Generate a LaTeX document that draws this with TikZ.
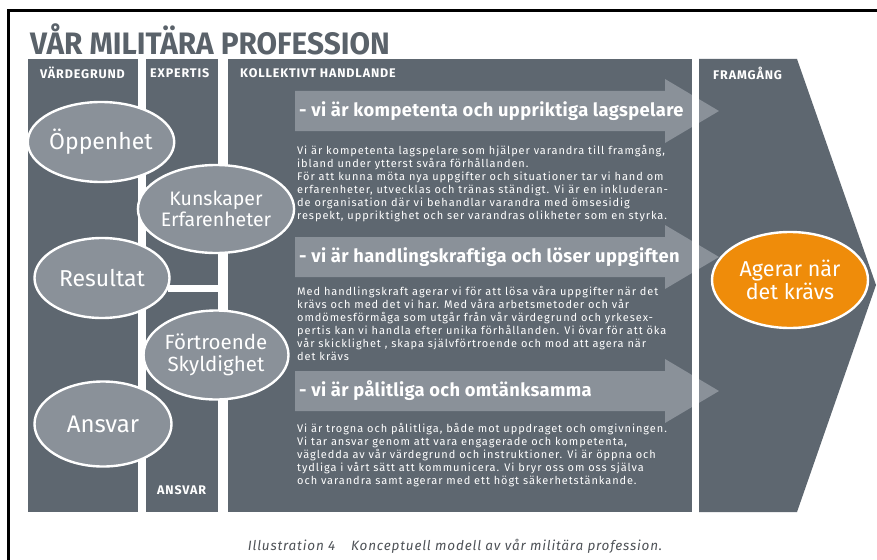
\documentclass[tikz,border=0pt]{standalone}
\usepackage{fontspec}
\setmainfont{Fira Sans}
\usepackage{graphicx}
\usetikzlibrary{shapes.geometric}

\definecolor{slate}{HTML}{5E6770}
\definecolor{stone}{HTML}{8A9199}
\definecolor{amber}{HTML}{EF8C0A}
\definecolor{ink}{HTML}{5A626A}
\definecolor{capgray}{HTML}{4E5257}

\begin{document}
\begin{tikzpicture}[x=1pt, y=-1pt,
        col/.style={fill=slate, inner sep=0pt, anchor=north west},
        colhead/.style={anchor=west, text=white, inner sep=0pt, font=\bfseries\fontsize{12.5}{14}\selectfont\addfontfeatures{LetterSpace=7}},
        pill/.style={ellipse, draw=white, line width=2.4pt, fill=stone, text=white, align=center, inner sep=0pt},
        lead/.style={anchor=west, text=white, inner sep=0pt, font=\bfseries\fontsize{18.3}{20}\selectfont\addfontfeatures{LetterSpace=2}},
        body/.style={anchor=north west, text=white, align=left, inner sep=0pt, font=\fontsize{11}{13}\selectfont\addfontfeatures{LetterSpace=8.5}},
        bridge/.style={draw=white, line width=7pt}
    ]

    \useasboundingbox (0,0) rectangle (877,559);
    \clip (0,0) rectangle (877,559);
    \fill[white] (0,0) rectangle (877,559);
    \draw[line width=3pt] (8,11) rectangle (900,600);

    \node[anchor=base west, text=ink, inner sep=0pt, font=\bfseries\fontsize{31}{33}\selectfont] (title) at (30,55)
        {\scalebox{0.96}[1]{VÅR MILITÄRA PROFESSION}};

    % columns
    \node[col, minimum width=110pt, minimum height=453pt] (vard) at (28,59) {};
    \node[col, minimum width=72pt, minimum height=453pt] (expert) at (146,59) {};
    \node[col, minimum width=464pt, minimum height=453pt] (koll) at (228,59) {};
    \fill[slate] (699,59) -- (797,59) -- (876,285) -- (797,512) -- (699,512) -- cycle;

    \node[colhead] (hvard) at (40,73) {VÄRDEGRUND};
    \node[colhead] (hexpert) at (150,73) {EXPERTIS};
    \node[colhead] (hkoll) at (240,73) {KOLLEKTIVT HANDLANDE};
    \node[colhead] (hfram) at (713,73) {FRAMGÅNG};
    \node[colhead] (hansvar) at (157,490) {ANSVAR};

    % arrows
    \foreach \y in {111,257,391}
        \fill[stone] (295,\y-20) -- (665,\y-20) -- (665,\y-32) -- (719,\y)
            -- (665,\y+32) -- (665,\y+20) -- (295,\y+20) -- cycle;
    \fill[white] (koll.north east) rectangle ([xshift=7pt]koll.south east);

    \node[lead] (lead1) at (299,111) {- vi är kompetenta och uppriktiga lagspelare};
    \node[lead] (lead2) at (299,257) {- vi är handlingskraftiga och löser uppgiften};
    \node[lead] (lead3) at (299,391) {- vi är pålitliga och omtänksamma};

    \node[body] (text1) at (297,145) {Vi är kompetenta lagspelare som hjälper varandra till framgång,\\
        ibland under ytterst svåra förhållanden.\\
        För att kunna möta nya uppgifter och situationer tar vi hand om\\
        erfarenheter, utvecklas och tränas ständigt. Vi är en inkluderan-\\
        de organisation där vi behandlar varandra med ömsesidig\\
        respekt, uppriktighet och ser varandras olikheter som en styrka.};
    \node[body] (text2) at (297,286) {Med handlingskraft agerar vi för att lösa våra uppgifter när det\\
        krävs och med det vi har. Med våra arbetsmetoder och vår\\
        omdömesförmåga som utgår från vår värdegrund och yrkesex-\\
        pertis kan vi handla efter unika förhållanden. Vi övar för att öka\\
        vår skicklighet , skapa självförtroende och mod att agera när\\
        det krävs};
    \node[body] (text3) at (297,423) {Vi är trogna och pålitliga, både mot uppdraget och omgivningen.\\
        Vi tar ansvar genom att vara engagerade och kompetenta,\\
        vägledda av vår värdegrund och instruktioner. Vi är öppna och\\
        tydliga i vårt sätt att kommunicera. Vi bryr oss om oss själva\\
        och varandra samt agerar med ett högt säkerhetstänkande.};

    % values and expertise
    \node[pill, minimum width=137pt, minimum height=80pt, font=\fontsize{23}{25}\selectfont] (oppen) at (101,142) {Öppenhet};
    \node[pill, minimum width=142pt, minimum height=88pt, font=\fontsize{19.5}{21}\selectfont] (kunskap) at (216,209) {Kunskaper\\Erfarenheter};
    \node[pill, minimum width=135pt, minimum height=80pt, font=\fontsize{23}{25}\selectfont] (result) at (102,278) {Resultat};
    \node[pill, minimum width=142pt, minimum height=89pt, font=\fontsize{20.5}{22}\selectfont] (fortro) at (216,355) {Förtroende\\Skyldighet};
    \node[pill, minimum width=137pt, minimum height=85pt, font=\fontsize{24}{26}\selectfont] (ansvar) at (103,424) {Ansvar};
    \node[pill, fill=amber, minimum width=156pt, minimum height=96pt, font=\fontsize{21.5}{23}\selectfont] (agerar) at (790,280) {Agerar när\\det krävs};

    \draw[bridge] (result.-9) -- (result.-9 -| koll.west);

    \node[anchor=base, text=capgray, inner sep=0pt, font=\itshape\fontsize{13.5}{15}\selectfont\addfontfeatures{LetterSpace=6}] (caption) at (455,550)
        {Illustration 4\hspace{16pt}Konceptuell modell av vår militära profession.};
\end{tikzpicture}
\end{document}
